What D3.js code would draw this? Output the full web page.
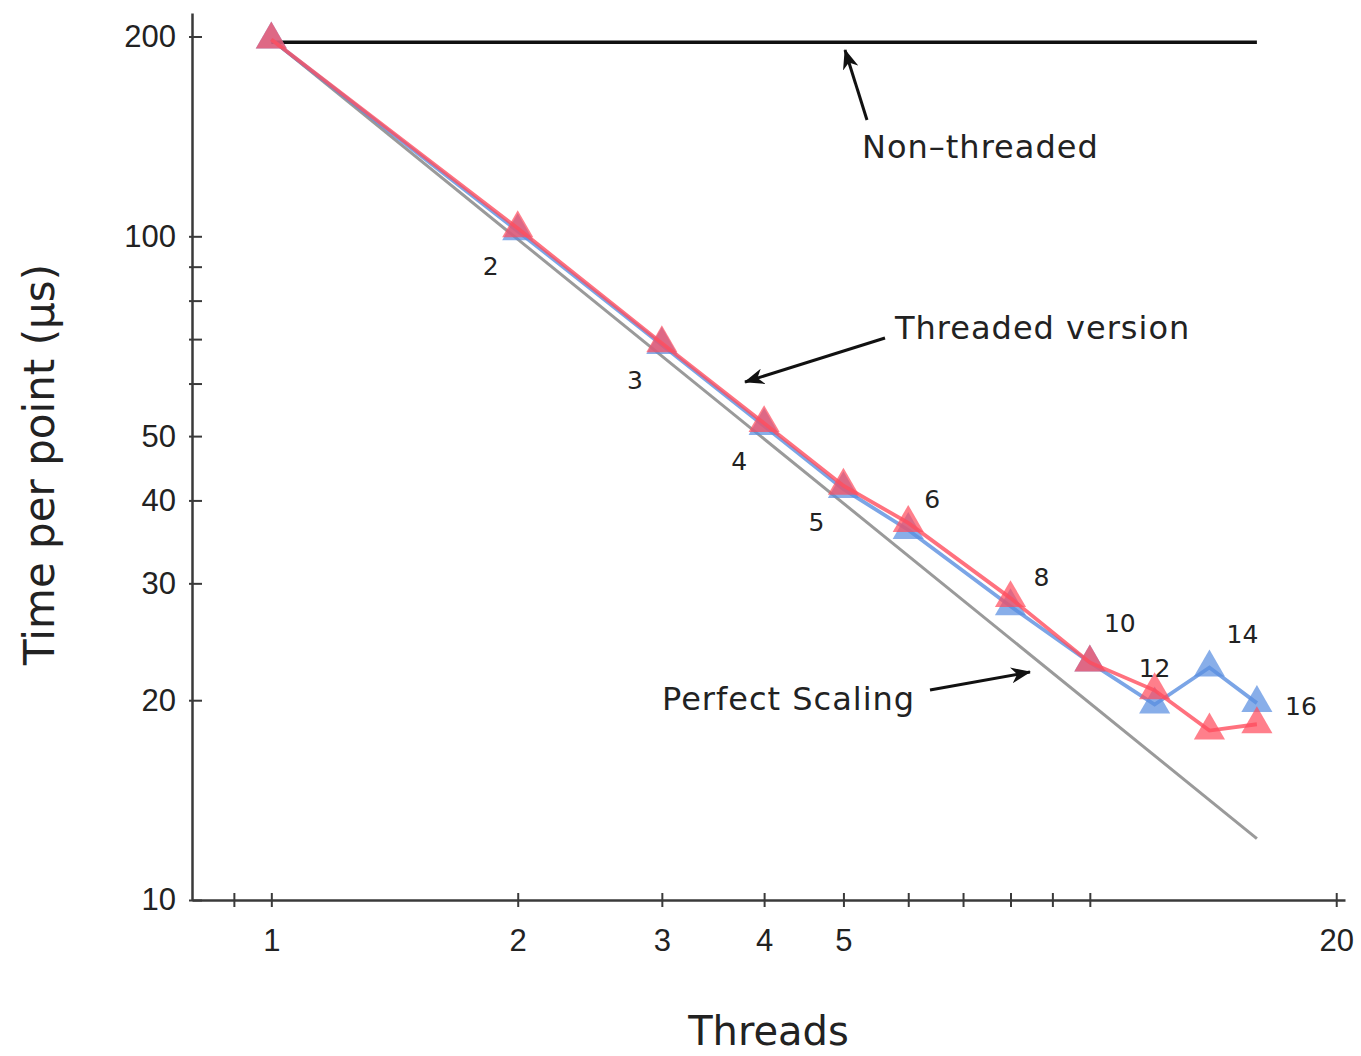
<!DOCTYPE html>
<html>
<head>
<meta charset="utf-8">
<script src="https://cdn.jsdelivr.net/npm/d3@7"></script>
<style>
  html, body { margin: 0; padding: 0; background: #fff; }
  svg { display: block; font-family: "DejaVu Sans", sans-serif; }
</style>
</head>
<body>
<svg id="chart" width="1361" height="1056"></svg>
<script>
// Thread counts measured
const threads = [1, 2, 3, 4, 5, 6, 8, 10, 12, 14, 16];
// Time per point (µs), two runs of the threaded version
const runBlue = [198, 101.8, 68.6, 51.8, 41.6, 36.1, 27.7, 22.8, 19.7, 22.4, 19.8];
const runRed  = [198, 102.8, 69.0, 52.3, 42.1, 37.0, 28.5, 22.8, 20.7, 18.0, 18.4];
// Single-threaded baseline
const nonThreaded = 196;
// Point labels (thread counts) written next to the markers
const pointLabels = ["2", "3", "4", "5", "6", "8", "10", "12", "14", "16"];
// Axis ticks
const xTickValues = [0.9, 1, 2, 3, 4, 5, 6, 7, 8, 9, 10, 20];
const xTickLabels = ["", "1", "2", "3", "4", "5", "", "", "", "", "", "20"];
const yTickValues = [200, 100, 90, 80, 70, 60, 50, 40, 30, 20, 10];
const yTickLabels = ["200", "100", "", "", "", "", "50", "40", "30", "20", "10"];

const svg = d3.select("#chart");
const x = d3.scaleLog().domain([0.8, 20.5]).range([192, 1345]);
const y = d3.scaleLog().domain([10, 217]).range([900, 13]);

const ink = "#222";
const axisColor = "#3a3a3a";

// Axes
const xAxis = d3.axisBottom(x)
  .tickValues(xTickValues)
  .tickFormat((d, i) => xTickLabels[i])
  .tickSizeInner(14).tickSizeOuter(0).tickPadding(12);
const gx = svg.append("g").attr("transform", `translate(0,${y(10)})`).call(xAxis);
gx.select(".domain").attr("stroke", axisColor).attr("stroke-width", 2.5);
gx.selectAll(".tick line").attr("stroke", axisColor).attr("stroke-width", 2).attr("y1", -7).attr("y2", 7);
gx.selectAll(".tick text").attr("fill", ink).attr("font-size", 31).attr("dy", "0.82em");

const yAxis = d3.axisLeft(y)
  .tickValues(yTickValues)
  .tickFormat((d, i) => yTickLabels[i])
  .tickSizeInner(12).tickSizeOuter(0).tickPadding(14);
const gy = svg.append("g").attr("transform", `translate(${x(0.8)},0)`).call(yAxis);
gy.select(".domain").attr("stroke", axisColor).attr("stroke-width", 2.5);
gy.selectAll(".tick line").attr("stroke", axisColor).attr("stroke-width", 2).attr("x1", -3).attr("x2", 10);
gy.selectAll(".tick text").attr("fill", ink).attr("font-size", 31).attr("x", -16);

// Axis titles
svg.append("text")
  .attr("x", (x(0.8) + x(20.5)) / 2).attr("y", 1045)
  .attr("text-anchor", "middle").attr("font-size", 40).attr("fill", ink)
  .text("Threads");
svg.append("text")
  .attr("transform", `translate(54,${(y(10) + y(217)) / 2 + 8}) rotate(-90)`)
  .attr("text-anchor", "middle").attr("font-size", 42).attr("fill", ink)
  .text("Time per point (µs)");

// Perfect scaling: the single-thread time divided by the thread count
const perfect = [threads[0], threads[threads.length - 1]].map(t => [t, runRed[0] / t]);
svg.append("path")
  .datum(perfect)
  .attr("d", d3.line().x(d => x(d[0])).y(d => y(d[1])))
  .attr("fill", "none").attr("stroke", "#9a9a9a").attr("stroke-width", 3);

// Non-threaded baseline
svg.append("path")
  .datum([threads[0], threads[threads.length - 1]])
  .attr("d", d3.line().x(d => x(d)).y(() => y(nonThreaded)))
  .attr("fill", "none").attr("stroke", "#111").attr("stroke-width", 3.5);

// Threaded runs
const line = d3.line().x(d => x(d[0])).y(d => y(d[1]));
const tri = d3.symbol().type(d3.symbolTriangle).size(420);
const runs = [
  { values: runBlue, color: "#5a8fe0" },
  { values: runRed, color: "#ff4d5e" }
];
runs.forEach(run => {
  const pts = threads.map((t, i) => [t, run.values[i]]);
  svg.append("path")
    .datum(pts)
    .attr("d", line)
    .attr("fill", "none").attr("stroke", run.color)
    .attr("stroke-opacity", 0.8).attr("stroke-width", 3.8);
  svg.append("g").selectAll("path")
    .data(pts).join("path")
    .attr("d", tri)
    .attr("transform", d => `translate(${x(d[0])},${y(d[1])})`)
    .attr("fill", run.color).attr("fill-opacity", 0.72);
});

// Thread-count labels, placed beside the upper marker of each pair
const labelPos = [
  [-27, 47], [-27, 46], [-25, 47], [-27, 45], [24, -15],
  [31, -12], [30, -30], [0, -13], [33, -25], [44, 12]
];
svg.append("g").selectAll("text")
  .data(pointLabels).join("text")
  .attr("x", (d, i) => x(threads[i + 1]) + labelPos[i][0])
  .attr("y", (d, i) => y(Math.max(runRed[i + 1], runBlue[i + 1])) + labelPos[i][1])
  .attr("text-anchor", "middle").attr("font-size", 25).attr("fill", ink)
  .text(d => d);

// Callouts
const defs = svg.append("defs");
defs.append("marker")
  .attr("id", "head").attr("viewBox", "0 0 20 16")
  .attr("refX", 19).attr("refY", 8)
  .attr("markerWidth", 20).attr("markerHeight", 16)
  .attr("markerUnits", "userSpaceOnUse").attr("orient", "auto")
  .append("path").attr("d", "M0,0 L20,8 L0,16 L6,8 Z").attr("fill", "#111");

const callouts = [
  { text: "Non\u2013threaded", tx: 862, ty: 158, from: [867, 120], to: [845, 50] },
  { text: "Threaded version", tx: 895, ty: 339, from: [885, 338], to: [745, 382] },
  { text: "Perfect Scaling", tx: 662, ty: 710, from: [930, 690], to: [1030, 672] }
];
callouts.forEach(c => {
  svg.append("text")
    .attr("x", c.tx).attr("y", c.ty)
    .attr("font-size", 32).attr("letter-spacing", 1).attr("fill", ink)
    .text(c.text);
  svg.append("line")
    .attr("x1", c.from[0]).attr("y1", c.from[1])
    .attr("x2", c.to[0]).attr("y2", c.to[1])
    .attr("stroke", "#111").attr("stroke-width", 3)
    .attr("marker-end", "url(#head)");
});
</script>
</body>
</html>
